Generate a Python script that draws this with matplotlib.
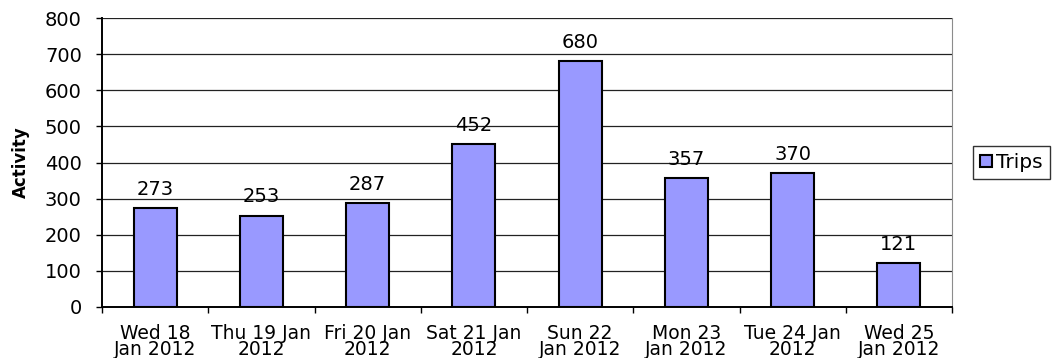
import matplotlib.pyplot as plt
from matplotlib.ticker import FixedLocator, NullFormatter
import numpy as np

plt.rcParams['font.family'] = ['DejaVu Sans']

days = ["Wed 18\nJan 2012", "Thu 19 Jan\n2012", "Fri 20 Jan\n2012", "Sat 21 Jan\n2012",
        "Sun 22\nJan 2012", "Mon 23\nJan 2012", "Tue 24 Jan\n2012", "Wed 25\nJan 2012"]
trips = [273, 253, 287, 452, 680, 357, 370, 121]

W, H = 1053, 358
fig = plt.figure(figsize=(W / 100, H / 100), dpi=100)
ax = fig.add_axes([102 / W, 1 - 307 / H, 850 / W, 289 / H])

x = np.arange(len(trips))
ax.bar(x, trips, width=0.405, color='#9999FF', edgecolor='black', linewidth=1.5,
       label='Trips', zorder=3)

# value labels above each bar
for xi, v in zip(x, trips):
    ax.annotate(str(v), (xi, v), xytext=(0, 9.5), textcoords='offset points',
                ha='center', va='baseline', fontsize=14)

ax.set_xlim(-0.5, len(trips) - 0.5)
ax.set_ylim(0, 800)
ax.set_yticks(range(0, 801, 100))
ax.tick_params(axis='y', labelsize=14, direction='out', length=4.5, width=1, pad=10)
ax.yaxis.grid(True, color='#222222', linewidth=0.9, zorder=0)

# category labels under the bars, tick marks between categories
ax.set_xticks(x)
ax.set_xticklabels(days, fontsize=13.5, linespacing=0.85)
ax.tick_params(axis='x', which='major', length=0, pad=12)
ax.xaxis.set_minor_locator(FixedLocator(np.arange(-0.5, len(trips), 1.0)))
ax.xaxis.set_minor_formatter(NullFormatter())
ax.tick_params(axis='x', which='minor', direction='out', length=4.5, width=1)

ax.spines['left'].set_linewidth(1.4)
ax.spines['bottom'].set_linewidth(1.4)
ax.spines['right'].set_color('#8c8c8c')
ax.spines['top'].set_visible(False)

ax.set_ylabel('Activity', fontsize=12, fontweight='bold', labelpad=11)

leg = fig.legend(loc='center left', bbox_to_anchor=(973 / W, 1 - 162.5 / H),
                 fontsize=14.5, frameon=True, fancybox=False, edgecolor='black',
                 handlelength=0.6, handleheight=0.6, handletextpad=0.2,
                 borderpad=0.35, borderaxespad=0)
leg.get_frame().set_linewidth(1.0)

fig.savefig('out.png', dpi=100)
